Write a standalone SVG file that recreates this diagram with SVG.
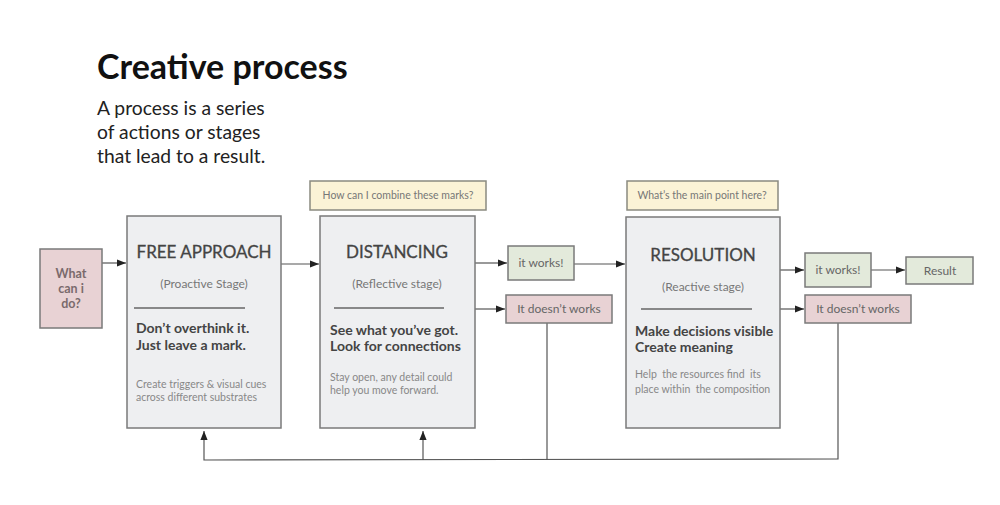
<svg xmlns="http://www.w3.org/2000/svg" width="1000" height="505" viewBox="0 0 1000 505">
<style>
text{font-family:Lato,"Open Sans","Liberation Sans",sans-serif}
.stage{fill:#eeeff1;stroke:#7a7a7a;stroke-width:1.5}
.pink{fill:#e8d2d4;stroke:#7a7a7a;stroke-width:1.5}
.green{fill:#e3eadb;stroke:#7a7a7a;stroke-width:1.5}
.yellow{fill:#fbf3d6;stroke:#8a8a80;stroke-width:1.5}
.ttl{font-size:17px;fill:#444;text-anchor:middle;stroke:#444;stroke-width:0.3}
.sub{font-size:12px;fill:#777;text-anchor:middle}
.bold{font-size:14px;font-weight:bold;fill:#444}
.small{font-size:10.5px;fill:#888;white-space:pre}
.lbl{font-size:12px;fill:#666;text-anchor:middle}
.q{font-size:10.5px;fill:#777;text-anchor:middle}
.rule{stroke:#666;stroke-width:1.5}
.conn{stroke:#555;stroke-width:1.2;fill:none}
</style>
<defs>
<marker id="ah" viewBox="0 0 10 10" refX="10" refY="5" markerWidth="9" markerHeight="9" markerUnits="userSpaceOnUse" orient="auto">
<path d="M0,1 L10,5 L0,9 z" fill="#222"/>
</marker>
</defs>
<rect width="1000" height="505" fill="#fff"/>
<g id="title">
<text x="97" y="79" font-size="34" font-weight="bold" fill="#111">Creative process</text>
<text x="97" y="115" font-size="19.3" fill="#222">A process is a series</text>
<text x="97" y="139" font-size="19.3" fill="#222">of actions or stages</text>
<text x="97" y="163" font-size="19.3" fill="#222">that lead to a result.</text>
</g>
<g id="connectors">
<line class="conn" x1="102" y1="263" x2="126" y2="263" marker-end="url(#ah)"/>
<line class="conn" x1="281" y1="264" x2="319" y2="264" marker-end="url(#ah)"/>
<line class="conn" x1="475" y1="263" x2="507" y2="263" marker-end="url(#ah)"/>
<line class="conn" x1="475" y1="309" x2="505" y2="309" marker-end="url(#ah)"/>
<line class="conn" x1="574" y1="264" x2="625" y2="264" marker-end="url(#ah)"/>
<line class="conn" x1="780" y1="270" x2="804" y2="270" marker-end="url(#ah)"/>
<line class="conn" x1="780" y1="309" x2="804" y2="309" marker-end="url(#ah)"/>
<line class="conn" x1="871" y1="270" x2="905" y2="270" marker-end="url(#ah)"/>
<polyline class="conn" points="547,323 547,460"/>
<polyline class="conn" points="838,323 838,459 204,460 204,431" marker-end="url(#ah)"/>
<line class="conn" x1="423" y1="460" x2="423" y2="431" marker-end="url(#ah)"/>
</g>
<g id="what">
<rect class="pink" x="40" y="249" width="62" height="79"/>
<text x="71" y="278" font-size="12.5" font-weight="bold" fill="#7a6a6c" text-anchor="middle">What</text>
<text x="71" y="293" font-size="12.5" font-weight="bold" fill="#7a6a6c" text-anchor="middle">can i</text>
<text x="71" y="308" font-size="12.5" font-weight="bold" fill="#7a6a6c" text-anchor="middle">do?</text>
</g>
<g id="free">
<rect class="stage" x="127" y="216" width="154" height="212"/>
<text class="ttl" x="204" y="258">FREE APPROACH</text>
<text class="sub" x="204" y="288">(Proactive Stage)</text>
<line class="rule" x1="134" y1="308" x2="245" y2="308"/>
<text class="bold" x="136" y="333">Don’t overthink it.</text>
<text class="bold" x="136" y="350">Just leave a mark.</text>
<text class="small" x="136" y="388">Create triggers &amp; visual cues</text>
<text class="small" x="136" y="401">across different substrates</text>
</g>
<g id="q1">
<rect class="yellow" x="310" y="181" width="176" height="29"/>
<text class="q" x="398" y="199">How can I combine these marks?</text>
</g>
<g id="distancing">
<rect class="stage" x="320" y="216" width="155" height="212"/>
<text class="ttl" x="397" y="258">DISTANCING</text>
<text class="sub" x="397" y="288">(Reflective stage)</text>
<line class="rule" x1="334" y1="308" x2="444" y2="308"/>
<text class="bold" x="330" y="335">See what you’ve got.</text>
<text class="bold" x="330" y="351">Look for connections</text>
<text class="small" x="330" y="381">Stay open, any detail could</text>
<text class="small" x="330" y="394">help you move forward.</text>
</g>
<g id="works1">
<rect class="green" x="508" y="246" width="66" height="34"/>
<text class="lbl" x="541" y="267">it works!</text>
</g>
<g id="fail1">
<rect class="pink" x="506" y="295" width="106" height="28"/>
<text class="lbl" x="559" y="313">It doesn’t works</text>
</g>
<g id="q2">
<rect class="yellow" x="627" y="181" width="151" height="29"/>
<text class="q" x="702" y="199">What’s the main point here?</text>
</g>
<g id="resolution">
<rect class="stage" x="626" y="217" width="154" height="211"/>
<text class="ttl" x="703" y="261">RESOLUTION</text>
<text class="sub" x="703" y="291">(Reactive stage)</text>
<line class="rule" x1="641" y1="309" x2="752" y2="309"/>
<text class="bold" x="635" y="336">Make decisions visible</text>
<text class="bold" x="635" y="352">Create meaning</text>
<text class="small" x="635" y="378">Help  the resources find  its</text>
<text class="small" x="635" y="393">place within  the composition</text>
</g>
<g id="works2">
<rect class="green" x="805" y="253" width="66" height="34"/>
<text class="lbl" x="838" y="274">it works!</text>
</g>
<g id="result">
<rect class="green" x="906" y="257" width="67" height="27"/>
<text class="lbl" x="940" y="275">Result</text>
</g>
<g id="fail2">
<rect class="pink" x="805" y="295" width="106" height="28"/>
<text class="lbl" x="858" y="313">It doesn’t works</text>
</g>
</svg>
